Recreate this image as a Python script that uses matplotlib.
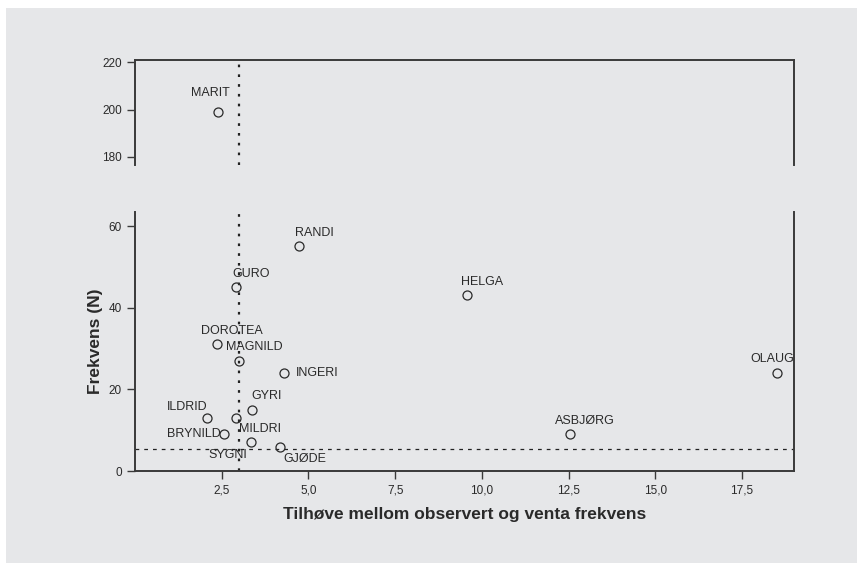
import matplotlib
matplotlib.use("Agg")
import matplotlib.pyplot as plt
from matplotlib.ticker import FuncFormatter

# Names, ratio observed/expected, and frequency
names = ["MARIT", "RANDI", "GURO", "HELGA", "DOROTEA", "MAGNILD", "INGERI",
         "GYRI", "ILDRID", "SYGNI", "BRYNILD", "MILDRI", "GJØDE", "ASBJØRG", "OLAUG"]
ratio = [2.40, 4.73, 2.92, 9.58, 2.36, 3.00, 4.29,
         3.36, 2.09, 2.92, 2.57, 3.35, 4.17, 12.53, 18.51]
freq = [199, 55, 45, 43, 31, 27, 24,
        15, 13, 13, 9, 7, 6, 9, 24]

ref_ratio = 3.0
ref_freq = 5.4

x_ticks = [2.5, 5.0, 7.5, 10.0, 12.5, 15.0, 17.5]
y_ticks_low = [0, 20, 40, 60]
y_ticks_high = [180, 200, 220]

# label placement in pixels relative to each marker (dx, dy, ha)
label_offsets = {
    "MARIT": (-8, 19, "center"),
    "INGERI": (12, 0, "left"),
    "ILDRID": (-20, 11, "center"),
    "BRYNILD": (-3, 0, "right"),
    "MILDRI": (9, 13, "center"),
    "GJØDE": (25, -12, "center"),
    "SYGNI": (-8, -37, "center"),
    "OLAUG": (-5, 14, "center"),
}
default_offset = (15, 13.5, "center")

bg = "#e6e7e9"
ink = "#3a3a3a"
text_col = "#2a2a2a"
plt.rcParams["font.family"] = ["Liberation Sans", "DejaVu Sans"]

fig = plt.figure(figsize=(8.57, 5.63), dpi=100, facecolor="white")
fig.patches.append(plt.Rectangle((6 / 857, 0), 1, 1 - 8 / 563, transform=fig.transFigure,
                                 facecolor=bg, edgecolor="none", zorder=-10))

ax_hi = fig.add_axes([0.1575, 0.7069, 0.769, 0.1865])
ax_lo = fig.add_axes([0.1575, 0.1634, 0.769, 0.4605])

for ax in (ax_hi, ax_lo):
    ax.set_facecolor("none")
    ax.set_xlim(0, 19)
    for s in ax.spines.values():
        s.set_color(ink)
        s.set_linewidth(1.4)
    ax.tick_params(colors=ink, labelcolor=text_col, labelsize=8.5,
                   length=6, width=1.0, direction="out")
    ax.axvline(ref_ratio, color="#222222", linestyle=(0, (1.2, 3.2)), linewidth=1.6, zorder=1)

ax_hi.set_ylim(176.5, 221)
ax_hi.spines["bottom"].set_visible(False)
ax_hi.set_xticks([])
ax_hi.set_yticks(y_ticks_high)

ax_lo.set_ylim(0, 63.5)
ax_lo.spines["top"].set_visible(False)
ax_lo.set_yticks(y_ticks_low)
ax_lo.set_xticks(x_ticks)
ax_lo.xaxis.set_major_formatter(FuncFormatter(lambda v, p: f"{v:.1f}".replace(".", ",")))
ax_lo.axhline(ref_freq, color="#222222", linestyle=(0, (3, 4)), linewidth=0.9, zorder=1)

for n, xv, yv in zip(names, ratio, freq):
    ax = ax_hi if yv > 100 else ax_lo
    ax.plot(xv, yv, marker="o", markersize=6.5, markerfacecolor="none",
            markeredgecolor="#2a2a2a", markeredgewidth=0.9, linestyle="none", zorder=3,
            clip_on=False)
    dx, dy, ha = label_offsets.get(n, default_offset)
    ax.annotate(n, (xv, yv), xytext=(dx, dy), textcoords="offset pixels",
                ha=ha, va="center", fontsize=9, color=text_col, zorder=4)

ax_lo.set_xlabel("Tilhøve mellom observert og venta frekvens", fontsize=12.5,
                 fontweight="bold", color=text_col, labelpad=8)
ax_lo.set_ylabel("Frekvens (N)", fontsize=12.5, fontweight="bold", color=text_col, labelpad=4)

fig.savefig("out.png", dpi=100, facecolor=fig.get_facecolor())
